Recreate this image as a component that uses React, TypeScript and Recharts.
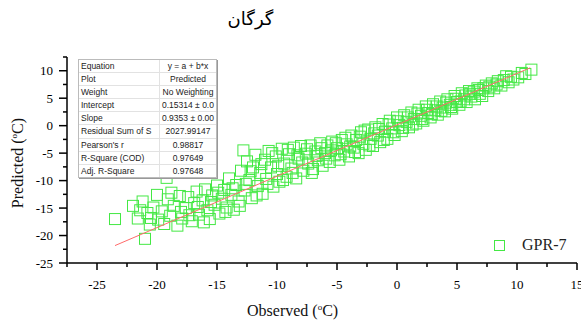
import React from 'react';
import { Scatter, ScatterChart, XAxis, YAxis } from 'recharts';

const POINTS: [number, number][] = [
  [-23.5, -17.0], [-22.0, -14.6], [-21.6, -16.9], [-21.2, -13.8], [-21.0, -20.6], [-20.8, -15.9],
  [-20.6, -18.0], [-20.3, -14.9], [-20.0, -12.6], [-19.9, -17.1], [-19.6, -15.6], [-19.2, -9.5],
  [-19.1, -13.4], [-18.9, -16.4], [-18.6, -14.6], [-18.3, -18.2], [-18.1, -12.8], [-17.9, -16.9],
  [-17.6, -15.0], [-17.4, -13.0], [-17.1, -17.4], [-16.9, -14.1], [-16.7, -12.0], [-16.5, -16.2],
  [-16.2, -13.6], [-16.0, -11.6], [-15.8, -15.4], [-15.6, -17.0], [-15.4, -12.7], [-15.2, -14.4],
  [-15.0, -10.9], [-14.8, -16.0], [-14.6, -13.3], [-14.4, -11.7], [-14.2, -14.9], [-14.0, -9.6],
  [-13.8, -12.6], [-13.6, -15.3], [-13.4, -10.8], [-13.2, -13.8], [-13.0, -8.2], [-12.8, -4.5],
  [-12.7, -11.8], [-12.5, -6.5], [-12.3, -9.9], [-12.1, -13.2], [-12.0, -7.6], [-11.8, -5.3],
  [-11.6, -11.0], [-11.4, -8.6], [-11.2, -12.4], [-11.0, -6.2], [-10.9, -9.7], [-10.7, -4.6],
  [-10.5, -7.6], [-10.3, -11.1], [-10.1, -5.6], [-10.0, -8.8], [-9.8, -10.2], [-9.6, -4.2],
  [-9.4, -6.9], [-9.2, -9.3], [-9.0, -5.2], [-8.8, -7.8], [-8.6, -4.0], [-8.4, -9.6],
  [-8.2, -6.0], [-8.0, -3.7], [-7.8, -8.2], [-7.6, -5.1], [-7.4, -6.9], [-7.2, -3.6],
  [-7.0, -7.9], [-6.8, -4.7], [-6.6, -6.3], [-6.4, -3.2], [-6.2, -7.3], [-6.0, -5.0],
  [-5.8, -3.6], [-5.6, -6.6], [-5.4, -2.9], [-5.2, -5.4], [-5.0, -4.1], [-4.8, -6.2],
  [-4.6, -2.6], [-4.4, -4.7], [-4.2, -3.4], [-4.0, -5.6], [-3.8, -1.8], [-3.6, -4.0],
  [-3.4, -2.6], [-3.2, -5.0], [-3.0, -1.2], [-2.8, -3.3], [-2.6, -4.4], [-2.4, -0.7],
  [-2.2, -2.4], [-2.0, -3.7], [-1.8, -0.3], [-1.6, -1.8], [-1.4, -3.0], [-1.2, 0.3],
  [-1.0, -1.1], [-0.8, -2.4], [-0.6, 0.9], [-0.4, -0.5], [-0.2, -1.7], [0.0, 1.5],
  [0.2, 0.1], [0.4, -1.0], [0.6, 1.9], [0.8, 0.7], [1.0, -0.3], [1.2, 2.4],
  [1.4, 1.2], [1.6, 0.4], [1.8, 2.9], [2.0, 1.8], [2.2, 0.9], [2.4, 3.5],
  [2.6, 2.3], [2.8, 1.5], [3.0, 3.9], [3.2, 2.8], [3.4, 2.0], [3.6, 4.4],
  [3.8, 3.3], [4.0, 2.6], [4.2, 4.8], [4.4, 3.8], [4.6, 3.1], [4.8, 5.4],
  [5.0, 4.3], [5.2, 3.8], [5.4, 5.9], [5.6, 4.8], [5.8, 4.3], [6.0, 6.3],
  [6.2, 5.3], [6.5, 4.8], [6.7, 6.8], [6.9, 5.8], [7.1, 5.4], [7.4, 7.3],
  [7.6, 6.3], [7.9, 7.7], [8.1, 6.8], [8.4, 8.1], [8.7, 7.3], [9.1, 9.0],
  [9.3, 7.9], [9.7, 8.4], [10.4, 9.6], [11.2, 10.2],
  [-21.4, -15.4], [-20.5, -16.8], [-19.4, -17.9], [-18.8, -12.2], [-18.0, -15.7], [-17.3, -16.3],
  [-16.6, -14.8], [-16.1, -17.6], [-15.5, -13.9], [-14.9, -12.2], [-14.3, -15.7], [-13.7, -11.4],
  [-13.1, -14.6], [-12.6, -10.6], [-12.2, -8.3], [-11.7, -12.7], [-11.3, -7.0], [-10.8, -10.6],
  [-10.4, -5.0], [-9.9, -7.3], [-9.5, -9.9], [-9.1, -4.4], [-8.7, -8.6], [-8.3, -5.4],
  [-7.9, -6.7], [-7.5, -4.3], [-7.1, -8.6], [-6.7, -5.5], [-6.3, -4.1], [-5.9, -6.0],
  [-5.5, -4.5], [-5.1, -3.2], [-4.7, -5.2], [-4.3, -2.2], [-3.9, -3.8], [-3.5, -4.8],
  [-3.1, -2.0], [-2.7, -0.9], [-2.3, -3.6], [-1.9, -1.4], [-1.5, -0.6], [-1.1, -2.6],
  [-0.7, 0.2], [-0.3, -1.2], [0.1, 0.8], [0.5, -0.4], [0.9, 1.5], [1.3, 0.2],
  [1.7, 2.2], [2.1, 1.2], [2.5, 2.9], [2.9, 2.1], [3.3, 3.5], [3.7, 2.7],
  [4.1, 4.2], [4.5, 3.4], [4.9, 4.9], [5.3, 4.4], [5.7, 5.5], [6.1, 5.8],
  [6.4, 6.2], [6.8, 6.5], [7.2, 6.8], [7.7, 7.1], [8.3, 7.5], [8.9, 8.3],
  [9.5, 8.9], [10.1, 8.8], [10.7, 9.4],
];

// linear fit y = a + b*x, drawn over the observed range
const INTERCEPT = 0.15314;
const SLOPE = 0.9353;
const FIT_X = [-23.5, 11.1];

const X_TICKS = [-27.5, -25, -22.5, -20, -17.5, -15, -12.5, -10, -7.5, -5, -2.5, 0, 2.5, 5, 7.5, 10, 12.5, 15];
const Y_TICKS = [-25, -22.5, -20, -17.5, -15, -12.5, -10, -7.5, -5, -2.5, 0, 2.5, 5, 7.5, 10, 12.5];

const STATS_LABELS = [
  'Equation', 'Plot', 'Weight', 'Intercept', 'Slope',
  'Residual Sum of S', "Pearson's r", 'R-Square (COD)', 'Adj. R-Square',
];
const STATS_VALUES = [
  'y = a + b*x', 'Predicted', 'No Weighting', '0.15314 ± 0.0', '0.9353 ± 0.00',
  '2027.99147', '0.98817', '0.97649', '0.97648',
];

const GREEN = '#44e844';
const SERIF = '"Liberation Serif", "Times New Roman", serif';

const scatterData = POINTS.map(([x, y]) => ({ x, y }));
const fitData = FIT_X.map((x) => ({ x, y: INTERCEPT + SLOPE * x }));

const isMajor = (v: number) => Math.abs(v % 5) < 1e-9;

function XTick({ x, y, payload }: any) {
  const v = payload.value;
  const major = isMajor(v);
  return (
    <g>
      <line x1={x} x2={x} y1={y} y2={y + (major ? 7 : 4)} stroke="#000" strokeWidth={1.5} />
      {major && (
        <text x={x} y={y + 21} textAnchor="middle" dominantBaseline="central"
          fontFamily={SERIF} fontSize={13} fill="#000">{v}</text>
      )}
    </g>
  );
}

function YTick({ x, y, payload }: any) {
  const v = payload.value;
  const major = isMajor(v);
  return (
    <g>
      <line x1={x} x2={x - (major ? 8 : 4)} y1={y} y2={y} stroke="#000" strokeWidth={1.5} />
      {major && (
        <text x={x - 14} y={y} textAnchor="end" dominantBaseline="central"
          fontFamily={SERIF} fontSize={13} fill="#000">{v}</text>
      )}
    </g>
  );
}

const OpenSquare = (p: any) => (
  <rect x={p.cx - 5.5} y={p.cy - 5.5} width={11} height={11} fill="none" stroke={GREEN} strokeWidth={1} />
);

function StatsTable() {
  return (
    <div
      style={{
        position: 'absolute', left: 78, top: 59, width: 137, background: '#fff',
        border: '1px solid #bbb', boxShadow: '1px 1px 0 #999',
        fontFamily: '"Liberation Sans", Arial, sans-serif', fontSize: 8.5, color: '#222',
      }}
    >
      {STATS_LABELS.map((label, i) => (
        <div key={label} style={{ display: 'flex', height: 12.1, lineHeight: '12px',
          borderTop: i ? '1px solid #e2e2e2' : 'none' }}>
          <div style={{ width: 78, paddingLeft: 2, borderRight: '1px solid #e2e2e2', whiteSpace: 'nowrap', overflow: 'hidden' }}>
            {label}
          </div>
          <div style={{ flex: 1, textAlign: 'center', whiteSpace: 'nowrap', overflow: 'hidden' }}>
            {STATS_VALUES[i]}
          </div>
        </div>
      ))}
    </div>
  );
}

export default function App() {
  return (
    <div style={{ position: 'absolute', left: 0, top: 0, width: 581, height: 325, background: '#fff', overflow: 'hidden' }}>
      <ScatterChart width={581} height={325} margin={{ top: 57, right: 4, bottom: 32, left: 0 }}>
        <XAxis
          type="number" dataKey="x" domain={[-27.5, 15]} ticks={X_TICKS} interval={0} height={30}
          tickSize={0} tickMargin={0} tick={<XTick />}
          axisLine={{ stroke: '#000', strokeWidth: 1.5 }} allowDataOverflow
        />
        <YAxis
          type="number" dataKey="y" domain={[-25, 12.5]} ticks={Y_TICKS} interval={0} width={67}
          tickSize={0} tickMargin={0} tick={<YTick />}
          axisLine={{ stroke: '#000', strokeWidth: 1.5 }} allowDataOverflow
        />
        <Scatter data={scatterData} shape={OpenSquare} isAnimationActive={false} />
        <Scatter
          data={fitData} line={{ stroke: '#ff6b6b', strokeWidth: 1 }} shape={() => <g />}
          isAnimationActive={false}
        />
      </ScatterChart>
      <StatsTable />
      <div style={{ position: 'absolute', left: 494, top: 236, display: 'flex', alignItems: 'center', gap: 17 }}>
        <svg width={11} height={11}>
          <rect x={0.5} y={0.5} width={10} height={10} fill="none" stroke={GREEN} />
        </svg>
        <span style={{ fontFamily: SERIF, fontSize: 16, color: '#222' }}>GPR-7</span>
      </div>
      <div style={{ position: 'absolute', left: 0, width: 581, top: 8, textAlign: 'center',
        fontFamily: '"DejaVu Sans", sans-serif', fontSize: 18, paddingRight: 80, boxSizing: 'border-box' }}>
        گرگان
      </div>
      <div style={{ position: 'absolute', left: 247, top: 302, fontFamily: SERIF, fontSize: 16, color: '#111' }}>
        Observed (<sup style={{ fontSize: 9 }}>o</sup>C)
      </div>
      <div style={{ position: 'absolute', left: 18, top: 163, transform: 'translate(-50%, -50%) rotate(-90deg)',
        fontFamily: SERIF, fontSize: 16, color: '#111', whiteSpace: 'nowrap' }}>
        Predicted (<sup style={{ fontSize: 9 }}>o</sup>C)
      </div>
    </div>
  );
}
